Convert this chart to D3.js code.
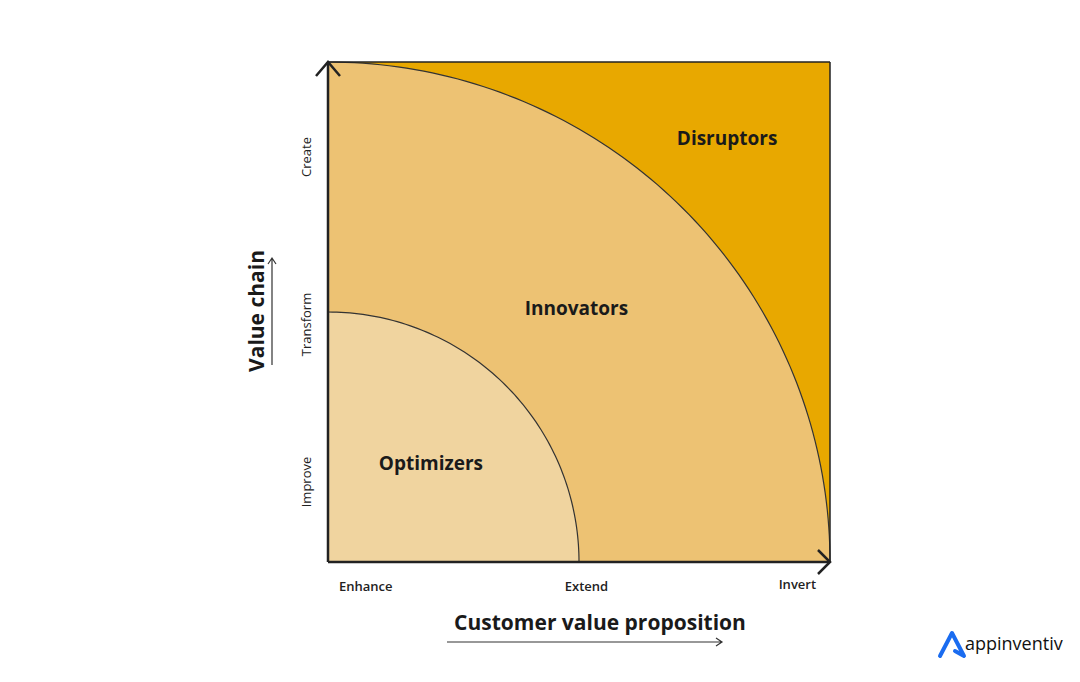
<!DOCTYPE html>
<html><head><meta charset="utf-8">
<script src="https://cdn.jsdelivr.net/npm/d3@7"></script>
<style>body{margin:0;background:#fff}text{font-family:"Open Sans",Inter,sans-serif}</style>
</head><body>
<script>
var width = 1080, height = 682;
var zones = ["Disruptors", "Innovators", "Optimizers"];
var zoneRadius = [null, 2, 1];
var zoneColors = ["#e8a800", "#edc273", "#f0d49f"];
var zoneLabelPos = [[1.59, 1.67], [0.99, 0.99], [0.41, 0.37]];
var xTicks = ["Enhance", "Extend", "Invert"];
var yTicks = ["Improve", "Transform", "Create"];
var xTickVals = [0.15, 1.03, 1.87];
var yTickVals = [0.32, 0.95, 1.62];

var x = d3.scaleLinear().domain([0, 2]).range([328, 830]);
var y = d3.scaleLinear().domain([0, 2]).range([562, 62]);

var svg = d3.select("body").append("svg").attr("width", width).attr("height", height);

svg.append("rect").attr("x", x(0)).attr("y", y(2))
   .attr("width", x(2) - x(0)).attr("height", y(0) - y(2))
   .attr("fill", zoneColors[0]);

[1, 2].forEach(function (i) {
  var r = zoneRadius[i];
  var path = d3.path();
  path.moveTo(x(0), y(0));
  path.lineTo(x(0), y(r));
  var pts = d3.range(0, 91).map(function (a) {
    var t = a * Math.PI / 180;
    return [x(r * Math.sin(t)), y(r * Math.cos(t))];
  });
  pts.forEach(function (p) { path.lineTo(p[0], p[1]); });
  path.closePath();
  svg.append("path").attr("d", path.toString()).attr("fill", zoneColors[i]);
  svg.append("path").attr("d", d3.line()(pts)).attr("fill", "none")
     .attr("stroke", "#333").attr("stroke-width", 1.2);
});

svg.selectAll(".zl").data(zones).enter().append("text")
   .attr("x", function (d, i) { return x(zoneLabelPos[i][0]); })
   .attr("y", function (d, i) { return y(zoneLabelPos[i][1]); })
   .attr("text-anchor", "middle").attr("font-size", 19).attr("font-weight", 700)
   .attr("fill", "#1a1a1a").text(function (d) { return d; });

// axes
var ax = svg.append("g").attr("stroke", "#222").attr("stroke-width", 2.5).attr("fill", "none");
ax.append("path").attr("d", "M" + x(0) + "," + y(0) + "H" + x(2));
ax.append("path").attr("d", "M" + x(0) + "," + y(0) + "V" + y(2));
ax.append("path").attr("d", "M" + (x(2) - 12) + "," + (y(0) - 12) + "L" + x(2) + "," + y(0) + "L" + (x(2) - 12) + "," + (y(0) + 12));
ax.append("path").attr("d", "M" + (x(0) - 12) + "," + (y(2) + 14) + "L" + x(0) + "," + y(2) + "L" + (x(0) + 12) + "," + (y(2) + 14));
ax.append("path").attr("d", "M" + x(2) + "," + y(2) + "V" + y(0)).attr("stroke-width", 1.5);
ax.append("path").attr("d", "M" + x(0) + "," + y(2) + "H" + x(2)).attr("stroke-width", 1.5);

svg.selectAll(".xt").data(xTicks).enter().append("text")
   .attr("x", function (d, i) { return x(xTickVals[i]); })
   .attr("y", function (d, i) { return i == 2 ? 589 : 591; })
   .attr("text-anchor", "middle").attr("font-size", 13).attr("font-weight", 600)
   .attr("fill", "#222").text(function (d) { return d; });

svg.selectAll(".yt").data(yTicks).enter().append("text")
   .attr("transform", function (d, i) { return "translate(311," + y(yTickVals[i]) + ") rotate(-90)"; })
   .attr("text-anchor", "middle").attr("font-size", 13).attr("fill", "#222")
   .text(function (d) { return d; });

svg.append("text").attr("x", 600).attr("y", 630).attr("text-anchor", "middle")
   .attr("font-size", 21).attr("font-weight", 700).attr("fill", "#1a1a1a")
   .text("Customer value proposition");
svg.append("path").attr("d", "M447,642H722M716,638L722,642L716,646")
   .attr("stroke", "#333").attr("fill", "none").attr("stroke-width", 1.2);

svg.append("text").attr("transform", "translate(264,311) rotate(-90)")
   .attr("text-anchor", "middle").attr("font-size", 21).attr("font-weight", 700)
   .attr("fill", "#1a1a1a").text("Value chain");
svg.append("path").attr("d", "M272,365V258M268,264L272,258L276,264")
   .attr("stroke", "#333").attr("fill", "none").attr("stroke-width", 1.2);

// logo
svg.append("path").attr("d", "M940,656L952,633L964,656L955,651")
   .attr("stroke", "#1a6cf0").attr("stroke-width", 4).attr("fill", "none")
   .attr("stroke-linejoin", "round").attr("stroke-linecap", "round");
svg.append("text").attr("x", 965).attr("y", 650).attr("font-size", 18)
   .attr("fill", "#111").text("appinventiv");
</script>
</body></html>
